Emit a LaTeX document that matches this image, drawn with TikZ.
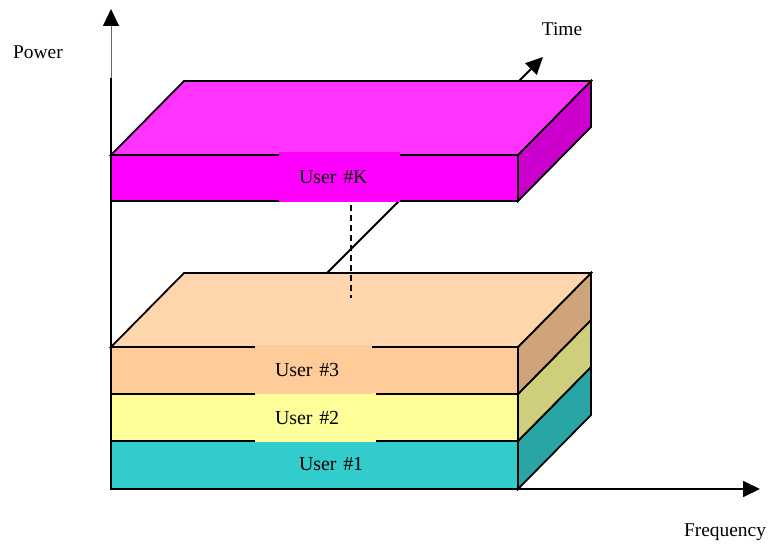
\documentclass[tikz,border=0pt]{standalone}
\usepackage{fontspec}
\setmainfont{Liberation Serif}
\usetikzlibrary{arrows.meta}
\definecolor{kfront}{HTML}{FF00FF}
\definecolor{ktop}{HTML}{FF33FF}
\definecolor{kside}{HTML}{CC00CC}
\definecolor{pchtop}{HTML}{FFD6AD}
\definecolor{pchfront}{HTML}{FFCC99}
\definecolor{pchside}{HTML}{CFA47B}
\definecolor{ylwfront}{HTML}{FFFF99}
\definecolor{ylwside}{HTML}{CFCF7B}
\definecolor{tealfront}{HTML}{33CCCC}
\definecolor{tealside}{HTML}{29A5A5}
\tikzset{
  edge/.style={draw=black, line width=1.8bp, line join=miter},
  axis/.style={draw=black, line width=1.8bp, -{Triangle[length=17bp,width=16bp]}},
  usertag/.style={inner xsep=20bp, inner ysep=0pt, text width=81bp, align=left,
    minimum height=49bp, font=\fontsize{20}{22}\selectfont},
  axlabel/.style={inner sep=0pt, font=\fontsize{19.5}{22}\selectfont}
}
\begin{document}
\begin{tikzpicture}[x=1bp,y=-1bp]
\useasboundingbox (0,0) rectangle (774,545);

% axes origin and tips
\coordinate (O) at (111,489);
\coordinate (powTip) at (111,9);
\coordinate (powThick) at (111,78);
\coordinate (timeTip) at (543,57);
\coordinate (freqTip) at (760,489);

% time axis (mostly hidden behind the slabs)
\draw[axis] (O) -- (timeTip);
% power axis: thin upper part, heavy lower part
\draw[draw=gray!80!black, line width=0.8bp,
  -{Triangle[length=17bp,width=16bp,color=black]}] (O) -- (powTip);
\draw[draw=black, line width=1.8bp] (O) -- (powThick);

% lower stack: user 1
\filldraw[edge, fill=tealfront] (111,441) rectangle (518,489);
\filldraw[edge, fill=tealside] (518,441) -- (591,367) -- (591,415) -- (518,489) -- cycle;
% user 2
\filldraw[edge, fill=ylwfront] (111,394) rectangle (518,441);
\filldraw[edge, fill=ylwside] (518,394) -- (591,320) -- (591,367) -- (518,441) -- cycle;
% user 3
\filldraw[edge, fill=pchfront] (111,347) rectangle (518,394);
\filldraw[edge, fill=pchside] (518,347) -- (591,273) -- (591,320) -- (518,394) -- cycle;
% top face of the stack
\filldraw[edge, fill=pchtop] (111,347) -- (184,273) -- (591,273) -- (518,347) -- cycle;

% user labels of the stack
\node[usertag, fill=tealfront, minimum height=45bp] (u1) at (339.5,464) {User \#1};
\node[usertag, fill=ylwfront, text width=81bp] (u2) at (315.5,417.5) {User \#2};
\node[usertag, fill=pchfront, text width=77bp] (u3) at (313.5,369.5) {User \#3};

% dashed link between the stack and the upper slab
\coordinate (dashTop) at (351,205);
\coordinate (dashBot) at (351,298);
\draw[black, line width=1.2bp, dash pattern=on 6bp off 4bp] (dashTop) -- (dashBot);

% upper slab: user K
\filldraw[edge, fill=kfront] (111,155) rectangle (518,201);
\filldraw[edge, fill=kside] (518,155) -- (591,81) -- (591,127) -- (518,201) -- cycle;
\filldraw[edge, fill=ktop] (111,155) -- (184,81) -- (591,81) -- (518,155) -- cycle;
\node[usertag, fill=kfront, minimum height=50bp] (uk) at (339.5,177.5) {User \#K};

% frequency axis drawn on top of the slab bottoms
\draw[axis] (O) -- (freqTip);

% axis names
\node[axlabel] (pw) at (38,52) {Power};
\node[axlabel] (tm) at (562,29) {Time};
\node[axlabel] (fq) at (725,532) {Frequency};
\end{tikzpicture}
\end{document}
